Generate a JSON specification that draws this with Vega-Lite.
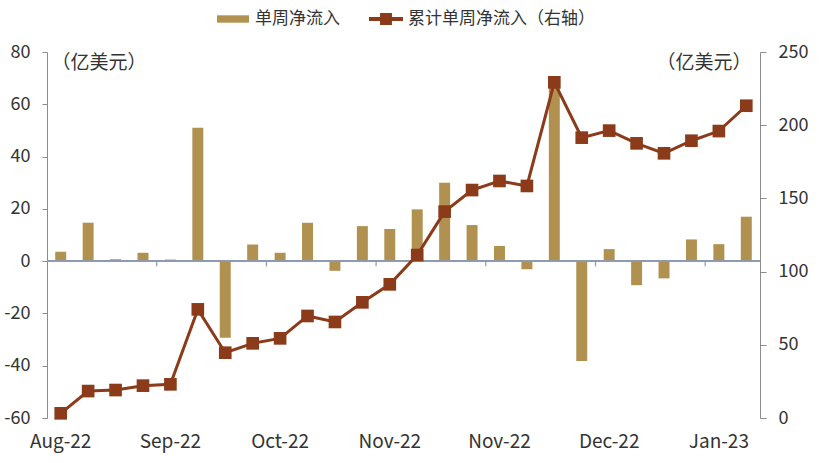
{
  "$schema": "https://vega.github.io/schema/vega-lite/v6.json",
  "width": 713,
  "height": 366,
  "autosize": {"type": "none"},
  "padding": {"left": 47, "top": 52, "right": 60, "bottom": 45},
  "config": {
    "font": "Noto Sans CJK SC",
    "view": {"stroke": null},
    "axis": {"labelFont": "Noto Sans CJK SC", "labelFontSize": 18, "labelColor": "#333333", "grid": false}
  },
  "data": {
    "values": [
      {"wk": 1, "flow": 3.6, "cum": 3.2},
      {"wk": 2, "flow": 14.7, "cum": 18.4},
      {"wk": 3, "flow": 0.7, "cum": 19.1},
      {"wk": 4, "flow": 3.2, "cum": 22.1},
      {"wk": 5, "flow": 0.6, "cum": 23.0},
      {"wk": 6, "flow": 51.0, "cum": 74.2},
      {"wk": 7, "flow": -29.3, "cum": 44.6},
      {"wk": 8, "flow": 6.4, "cum": 51.0},
      {"wk": 9, "flow": 3.2, "cum": 54.4},
      {"wk": 10, "flow": 14.7, "cum": 69.7},
      {"wk": 11, "flow": -3.7, "cum": 65.6},
      {"wk": 12, "flow": 13.4, "cum": 79.0},
      {"wk": 13, "flow": 12.3, "cum": 91.3},
      {"wk": 14, "flow": 19.8, "cum": 111.3},
      {"wk": 15, "flow": 30.0, "cum": 141.0},
      {"wk": 16, "flow": 13.8, "cum": 155.7},
      {"wk": 17, "flow": 5.8, "cum": 161.9},
      {"wk": 18, "flow": -3.1, "cum": 158.5},
      {"wk": 19, "flow": 69.0, "cum": 229.3},
      {"wk": 20, "flow": -38.2, "cum": 191.5},
      {"wk": 21, "flow": 4.6, "cum": 196.3},
      {"wk": 22, "flow": -9.2, "cum": 187.6},
      {"wk": 23, "flow": -6.6, "cum": 180.8},
      {"wk": 24, "flow": 8.3, "cum": 189.4},
      {"wk": 25, "flow": 6.5, "cum": 196.0},
      {"wk": 26, "flow": 17.0, "cum": 213.3}
    ]
  },
  "resolve": {
    "scale": {"y": "independent", "color": "independent"},
    "legend": {"color": "independent"}
  },
  "layer": [
    {
      "mark": {"type": "bar"},
      "encoding": {
        "x": {
          "field": "wk", "type": "ordinal",
          "scale": {"paddingInner": 0.6, "paddingOuter": 0.3},
          "axis": {
            "title": null, "values": [1, 5, 9, 13, 17, 21, 25],
            "labelExpr": "datum.value == 1 ? 'Aug-22' : datum.value == 5 ? 'Sep-22' : datum.value == 9 ? 'Oct-22' : datum.value == 13 ? 'Nov-22' : datum.value == 17 ? 'Nov-22' : datum.value == 21 ? 'Dec-22' : 'Jan-23'",
            "labelAngle": 0, "domain": false, "ticks": false, "labelPadding": 14, "labelFontSize": 19
          }
        },
        "y": {
          "field": "flow", "type": "quantitative",
          "scale": {"domain": [-60, 80], "nice": false},
          "axis": {
            "values": [-60, -40, -20, 0, 20, 40, 60, 80],
            "labelExpr": "datum.value < 0 ? '-' + abs(datum.value) : '' + datum.value",
            "domainColor": "#8c8c8c", "tickColor": "#8c8c8c", "tickSize": 5, "labelPadding": 12,
            "title": "（亿美元）", "titleAngle": 0, "titleX": 4, "titleY": 10,
            "titleAlign": "left", "titleBaseline": "middle", "titleFontSize": 19,
            "titleFontWeight": "normal", "titleColor": "#333333", "titleFont": "Noto Sans CJK SC"
          }
        },
        "color": {
          "datum": "单周净流入",
          "scale": {"range": ["#B1914F"]},
          "legend": {
            "title": null, "orient": "none", "legendX": 169, "legendY": -50,
            "symbolType": "M-1,-0.23H1V0.23H-1Z", "symbolSize": 1024,
            "labelFontSize": 17, "labelColor": "#333333", "labelFont": "Noto Sans CJK SC", "labelOffset": 5, "labelLimit": 400
          }
        }
      }
    },
    {
      "mark": {"type": "rule", "color": "#8E9AB0", "strokeWidth": 1.2},
      "encoding": {
        "y": {"datum": 0, "type": "quantitative", "scale": {"domain": [-60, 80], "nice": false}, "axis": null}
      }
    },
    {
      "transform": [{"filter": "datum.wk % 4 == 1 && datum.wk > 1"}],
      "mark": {"type": "rule", "color": "#8E9AB0", "strokeWidth": 1.2, "xOffset": -8.2},
      "encoding": {
        "x": {"field": "wk", "type": "ordinal", "bandPosition": 0},
        "y": {"datum": 0, "type": "quantitative", "scale": {"domain": [-60, 80], "nice": false}, "axis": null},
        "y2": {"datum": -2}
      }
    },
    {
      "mark": {"type": "line", "strokeWidth": 3, "point": {"shape": "square", "size": 160, "filled": true}},
      "encoding": {
        "x": {"field": "wk", "type": "ordinal"},
        "y": {
          "field": "cum", "type": "quantitative",
          "scale": {"domain": [0, 250], "nice": false},
          "axis": {
            "orient": "right", "values": [0, 50, 100, 150, 200, 250],
            "domainColor": "#8c8c8c", "tickColor": "#8c8c8c", "tickSize": 6, "labelPadding": 12,
            "title": "（亿美元）", "titleAngle": 0, "titleX": -9, "titleY": 10,
            "titleAlign": "right", "titleBaseline": "middle", "titleFontSize": 19,
            "titleFontWeight": "normal", "titleColor": "#333333", "titleFont": "Noto Sans CJK SC"
          }
        },
        "color": {
          "datum": "累计单周净流入（右轴）",
          "scale": {"range": ["#8B3A1A"]},
          "legend": {
            "title": null, "orient": "none", "legendX": 322, "legendY": -50,
            "symbolType": "M-1,-0.12H1V0.12H-1Z M-0.35,-0.35H0.35V0.35H-0.35Z", "symbolSize": 1156,
            "labelFontSize": 17, "labelColor": "#333333", "labelFont": "Noto Sans CJK SC", "labelOffset": 5, "labelLimit": 400,
            "encode": {"symbols": {"update": {"fill": {"value": "#8B3A1A"}, "stroke": {"value": "transparent"}, "strokeWidth": {"value": 0}}}}
          }
        }
      }
    }
  ]
}
